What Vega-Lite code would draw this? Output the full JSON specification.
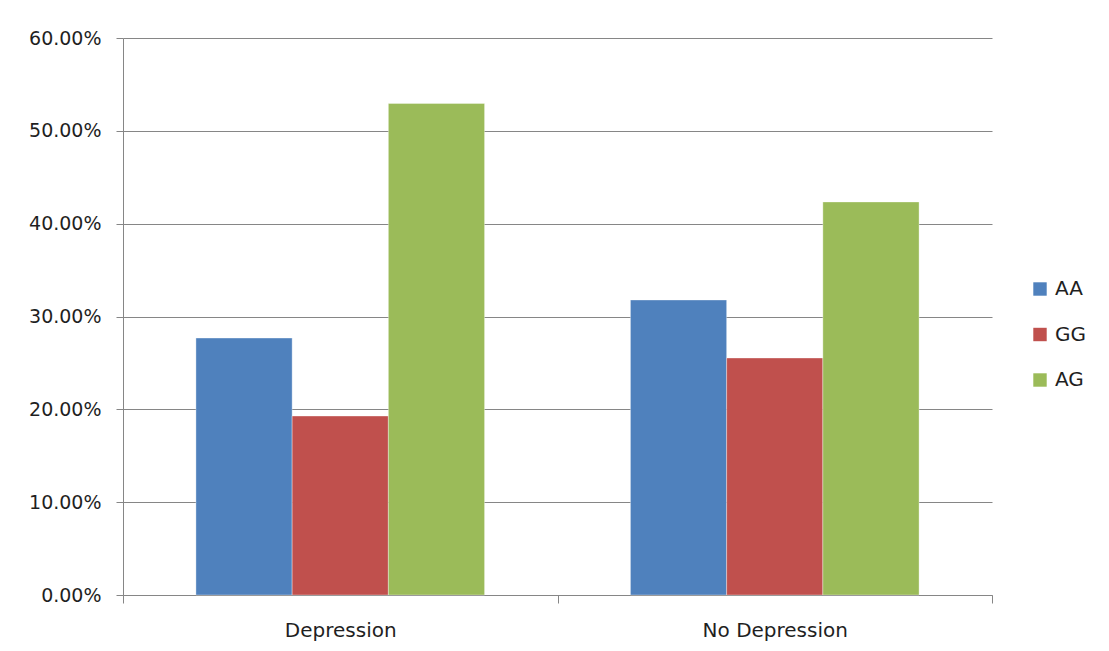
{
  "$schema": "https://vega.github.io/schema/vega-lite/v6.json",
  "width": 869,
  "height": 557,
  "autosize": "none",
  "padding": {"left": 123, "top": 38, "right": 117, "bottom": 56},
  "background": "#ffffff",
  "data": {
    "values": [
      {"group": "Depression", "genotype": "AA", "share": 0.2768},
      {"group": "Depression", "genotype": "GG", "share": 0.1928},
      {"group": "Depression", "genotype": "AG", "share": 0.5295},
      {"group": "No Depression", "genotype": "AA", "share": 0.3178},
      {"group": "No Depression", "genotype": "GG", "share": 0.2553},
      {"group": "No Depression", "genotype": "AG", "share": 0.4234}
    ]
  },
  "mark": {"type": "bar", "stroke": "#ffffff", "strokeOpacity": 0.35, "strokeWidth": 1},
  "encoding": {
    "x": {
      "field": "group",
      "type": "nominal",
      "sort": ["Depression", "No Depression"],
      "scale": {"paddingInner": 0, "paddingOuter": 0},
      "axis": {
        "title": null,
        "labelAngle": 0,
        "tickBand": "extent",
        "tickSize": 8,
        "tickColor": "#868686",
        "domainColor": "#868686",
        "labelPadding": 17,
        "labelFont": "DejaVu Sans",
        "labelFontSize": 20,
        "labelColor": "#1f1f1f",
        "grid": false
      }
    },
    "xOffset": {
      "field": "genotype",
      "type": "nominal",
      "sort": ["AA", "GG", "AG"],
      "scale": {"paddingInner": 0, "paddingOuter": 0.758}
    },
    "y": {
      "field": "share",
      "type": "quantitative",
      "scale": {"domain": [0, 0.6], "nice": false},
      "axis": {
        "title": null,
        "values": [0, 0.1, 0.2, 0.3, 0.4, 0.5, 0.6],
        "format": ".2%",
        "grid": true,
        "gridColor": "#868686",
        "gridWidth": 1,
        "tickSize": 7,
        "tickColor": "#868686",
        "domainColor": "#868686",
        "labelPadding": 15,
        "labelFont": "DejaVu Sans",
        "labelFontSize": 19,
        "labelColor": "#1f1f1f"
      }
    },
    "color": {
      "field": "genotype",
      "type": "nominal",
      "sort": ["AA", "GG", "AG"],
      "scale": {"domain": ["AA", "GG", "AG"], "range": ["#4F81BD", "#C0504D", "#9BBB59"]},
      "legend": {
        "title": null,
        "orient": "none",
        "legendX": 907,
        "legendY": 241,
        "symbolType": "square",
        "symbolSize": 180,
        "symbolStrokeWidth": 0,
        "labelFont": "DejaVu Sans",
        "labelFontSize": 20,
        "labelColor": "#1f1f1f",
        "labelOffset": 5,
        "rowPadding": 25.5,
        "padding": 0
      }
    }
  },
  "config": {
    "view": {"stroke": null},
    "axis": {"domainWidth": 1, "tickWidth": 1}
  }
}
